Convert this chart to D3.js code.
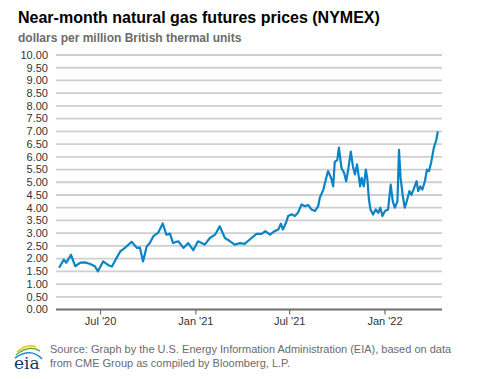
<!DOCTYPE html>
<html>
<head>
<meta charset="utf-8">
<script src="https://cdn.jsdelivr.net/npm/d3@7"></script>
<style>
  body { margin: 0; background: #fff; }
  svg { display: block; font-family: 'Liberation Sans', Arial, sans-serif; }
</style>
</head>
<body>
<div class="chart"></div>
<script>
'use strict'
// near-month futures (roughly weekly)
const dates = [
  '2020-04-13', '2020-04-22', '2020-04-27', '2020-05-06', '2020-05-14', '2020-05-24', '2020-06-02', '2020-06-12',
  '2020-06-21', '2020-06-27', '2020-07-07', '2020-07-17', '2020-07-24', '2020-08-02', '2020-08-09', '2020-08-18',
  '2020-08-31', '2020-09-10', '2020-09-16', '2020-09-22', '2020-09-29', '2020-10-05', '2020-10-12', '2020-10-21',
  '2020-10-30', '2020-11-06', '2020-11-13', '2020-11-19', '2020-11-29', '2020-12-09', '2020-12-18', '2020-12-28',
  '2021-01-06', '2021-01-19', '2021-01-29', '2021-02-08', '2021-02-17', '2021-02-27', '2021-03-09', '2021-03-18',
  '2021-03-28', '2021-04-06', '2021-04-16', '2021-04-29', '2021-05-09', '2021-05-16', '2021-05-25', '2021-06-03',
  '2021-06-10', '2021-06-15', '2021-06-19', '2021-06-26', '2021-06-29', '2021-07-06', '2021-07-12', '2021-07-18',
  '2021-07-25', '2021-07-31', '2021-08-07', '2021-08-13', '2021-08-20', '2021-08-26', '2021-08-29', '2021-09-05',
  '2021-09-09', '2021-09-14', '2021-09-20', '2021-09-24', '2021-09-27', '2021-10-02', '2021-10-05', '2021-10-10',
  '2021-10-15', '2021-10-19', '2021-10-23', '2021-10-28', '2021-11-01', '2021-11-05', '2021-11-09', '2021-11-15',
  '2021-11-18', '2021-11-22', '2021-11-26', '2021-11-29', '2021-12-02', '2021-12-05', '2021-12-10', '2021-12-15',
  '2021-12-20', '2021-12-24', '2021-12-28', '2022-01-02', '2022-01-08', '2022-01-13', '2022-01-17', '2022-01-21',
  '2022-01-26', '2022-01-29', '2022-02-01', '2022-02-05', '2022-02-09', '2022-02-13', '2022-02-18', '2022-02-22',
  '2022-02-26', '2022-03-04', '2022-03-07', '2022-03-11', '2022-03-15', '2022-03-20', '2022-03-24', '2022-03-28',
  '2022-04-01', '2022-04-06', '2022-04-11', '2022-04-14'
]
const prices = [
  1.64, 1.96, 1.84, 2.15, 1.70, 1.84, 1.85, 1.79,
  1.70, 1.50, 1.89, 1.74, 1.69, 2.03, 2.28, 2.42,
  2.66, 2.42, 2.43, 1.89, 2.48, 2.61, 2.88, 3.01,
  3.38, 2.94, 2.98, 2.61, 2.68, 2.42, 2.61, 2.33,
  2.68, 2.55, 2.81, 2.94, 3.27, 2.81, 2.68, 2.55,
  2.61, 2.58, 2.75, 2.97, 2.97, 3.08, 2.94, 3.08,
  3.14, 3.37, 3.14, 3.47, 3.67, 3.74, 3.67, 3.80,
  4.13, 4.06, 4.10, 3.93, 3.87, 4.06, 4.38, 4.71,
  5.04, 5.44, 5.17, 4.84, 5.80, 5.88, 6.36, 5.56,
  5.37, 5.04, 5.50, 6.20, 5.63, 5.31, 5.70, 4.84,
  5.17, 4.84, 5.50, 5.11, 4.32, 3.93, 3.73, 3.93,
  3.80, 4.00, 3.67, 3.87, 3.93, 4.91, 4.25, 4.00,
  4.25, 6.27, 5.17, 4.51, 4.00, 4.25, 4.65, 4.51,
  4.71, 5.04, 4.65, 4.84, 4.71, 5.04, 5.50, 5.44,
  5.77, 6.33, 6.66, 7.00
]
const yTicks = d3.range(0, 10.01, 0.5)
const xTickDates = ['2020-07-01', '2021-01-01', '2021-07-01', '2022-01-01']

const width = 477
const height = 379
const parse = d3.utcParse('%Y-%m-%d')
const series = dates.map(function (d, i) { return { date: parse(d), value: prices[i] } })

const svg = d3.select('.chart').append('svg')
  .attr('width', width)
  .attr('height', height)

const x = d3.scaleUtc()
  .domain([parse('2020-04-07'), parse('2022-04-22')])
  .range([56, 442])
const y = d3.scaleLinear().domain([0, 10]).range([309.5, 55])

// titles
svg.append('text')
  .attr('x', 18).attr('y', 23)
  .attr('font-size', 16).attr('font-weight', 'bold').attr('fill', '#000')
  .text('Near-month natural gas futures prices (NYMEX)')
svg.append('text')
  .attr('x', 18).attr('y', 42)
  .attr('font-size', 12).attr('font-weight', 'bold').attr('fill', '#6b6b6b')
  .text('dollars per million British thermal units')

// grid
svg.append('g').selectAll('line')
  .data(yTicks)
  .enter().append('line')
  .attr('x1', 56).attr('x2', 442)
  .attr('y1', function (d) { return y(d) })
  .attr('y2', function (d) { return y(d) })
  .attr('stroke', function (d) { return d === 0 ? '#6e6e6e' : '#cfcfcf' })
  .attr('stroke-width', 1.8)

// y labels
svg.append('g').selectAll('text')
  .data(yTicks)
  .enter().append('text')
  .attr('x', 48)
  .attr('y', function (d) { return y(d) })
  .attr('dy', '0.35em')
  .attr('text-anchor', 'end')
  .attr('font-size', 11).attr('fill', '#333')
  .text(d3.format('.2f'))

// x axis
const xAxis = svg.append('g')
  .attr('transform', 'translate(0,' + y(0) + ')')
  .call(d3.axisBottom(x)
    .tickValues(xTickDates.map(parse))
    .tickFormat(d3.utcFormat("%b '%y"))
    .tickSize(5)
    .tickPadding(3))
xAxis.select('.domain').remove()
xAxis.selectAll('line').attr('stroke', '#6e6e6e').attr('stroke-width', 1.2)
xAxis.selectAll('text')
  .attr('font-size', 11).attr('fill', '#333')
  .attr('font-family', "'Liberation Sans', Arial, sans-serif")

// price line
const line = d3.line()
  .x(function (d) { return x(d.date) })
  .y(function (d) { return y(d.value) })
svg.append('path')
  .datum(series)
  .attr('d', line)
  .attr('fill', 'none')
  .attr('stroke', '#0a84c6')
  .attr('stroke-width', 2.2)
  .attr('stroke-linejoin', 'round')

// source note
const note = svg.append('text')
  .attr('font-size', 11).attr('fill', '#6b6b6b')
note.append('tspan').attr('x', 50).attr('y', 353)
  .text('Source: Graph by the U.S. Energy Information Administration (EIA), based on data')
note.append('tspan').attr('x', 50).attr('y', 367)
  .text('from CME Group as compiled by Bloomberg, L.P.')

// eia logo
const logo = svg.append('g')
logo.append('path').attr('d', 'M17,352 Q27,343 36,347').attr('fill', 'none').attr('stroke', '#f2c21b').attr('stroke-width', 1.6)
logo.append('path').attr('d', 'M16,355 Q29,344 40,351').attr('fill', 'none').attr('stroke', '#65b23a').attr('stroke-width', 1.6)
logo.append('path').attr('d', 'M15,358 Q31,347 42,359').attr('fill', 'none').attr('stroke', '#1c8bd1').attr('stroke-width', 1.6)
logo.append('text')
  .attr('x', 14).attr('y', 369)
  .attr('font-family', "'DejaVu Serif', 'Liberation Serif', serif")
  .attr('font-size', 17).attr('fill', '#15396b')
  .text('eia')
</script>
</body>
</html>
